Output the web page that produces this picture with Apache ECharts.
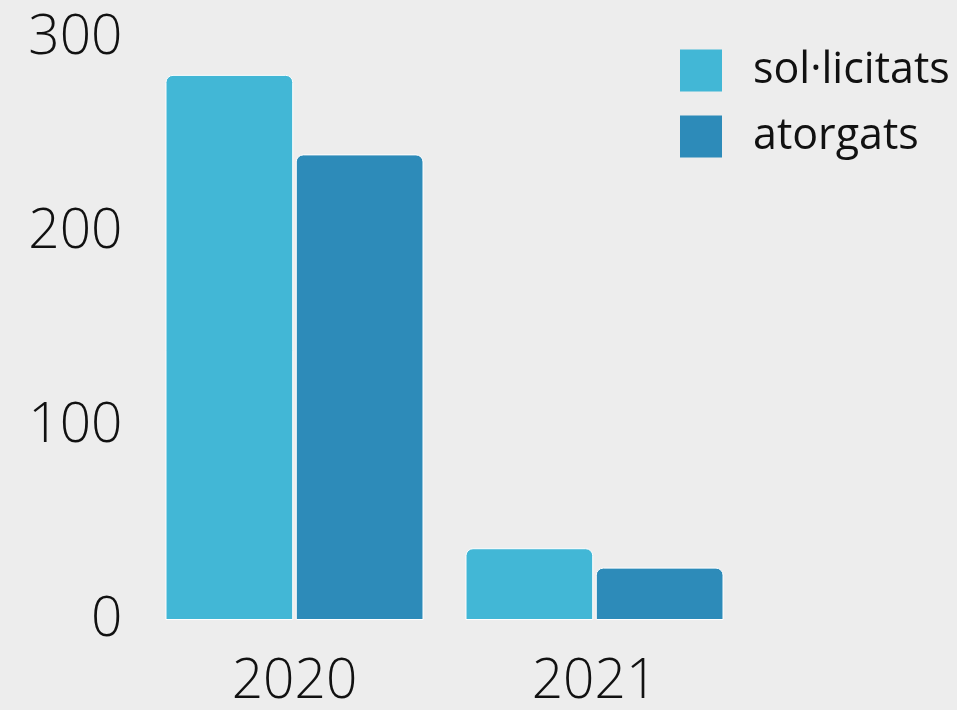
<!DOCTYPE html>
<html><head><meta charset="utf-8">
<script src="https://cdn.jsdelivr.net/npm/echarts@6/dist/echarts.min.js"></script>
<style>html,body{margin:0;padding:0;background:#ededed}#c{width:957px;height:710px}</style>
</head><body><div id="c"></div>
<script>
const categories = ['2020', '2021'];
const solLicitats = [281, 37];
const atorgats = [240, 27];
const seriesNames = ['sol·licitats', 'atorgats'];
const yTicks = [0, 100, 200, 300];

const chart = echarts.init(document.getElementById('c'), null, {renderer: 'canvas'});
const font = '"Open Sans", sans-serif';
chart.setOption({
  backgroundColor: '#ededed',
  animation: false,
  grid: {left: 144.5, right: 212.5, top: 38, bottom: 90},
  legend: {
    data: seriesNames,
    orient: 'vertical',
    left: 675, top: 44, padding: 5,
    itemWidth: 42, itemHeight: 42, itemGap: 23,
    icon: 'rect',
    itemStyle: {borderWidth: 0},
    textStyle: {fontFamily: font, fontWeight: 400, fontSize: 43, color: '#111', padding: [0, 0, 0, 26]}
  },
  xAxis: {
    type: 'category', data: categories,
    axisLine: {show: false}, axisTick: {show: false},
    axisLabel: {fontFamily: font, fontWeight: 300, fontSize: 55, color: '#111', margin: 35}
  },
  yAxis: {
    type: 'value', min: yTicks[0], max: yTicks[yTicks.length - 1], interval: 100,
    splitLine: {show: false}, axisLine: {show: false}, axisTick: {show: false},
    axisLabel: {fontFamily: font, fontWeight: 300, fontSize: 55, color: '#111', margin: 22}
  },
  series: [
    {name: seriesNames[0], type: 'bar', data: solLicitats, barGap: '2%', barCategoryGap: '14%',
     itemStyle: {color: '#42b7d6', borderRadius: [7, 7, 0, 0], borderColor: '#ffffff', borderWidth: 1}},
    {name: seriesNames[1], type: 'bar', data: atorgats,
     itemStyle: {color: '#2d8bb9', borderRadius: [7, 7, 0, 0], borderColor: '#ffffff', borderWidth: 1}}
  ]
});
</script></body></html>
